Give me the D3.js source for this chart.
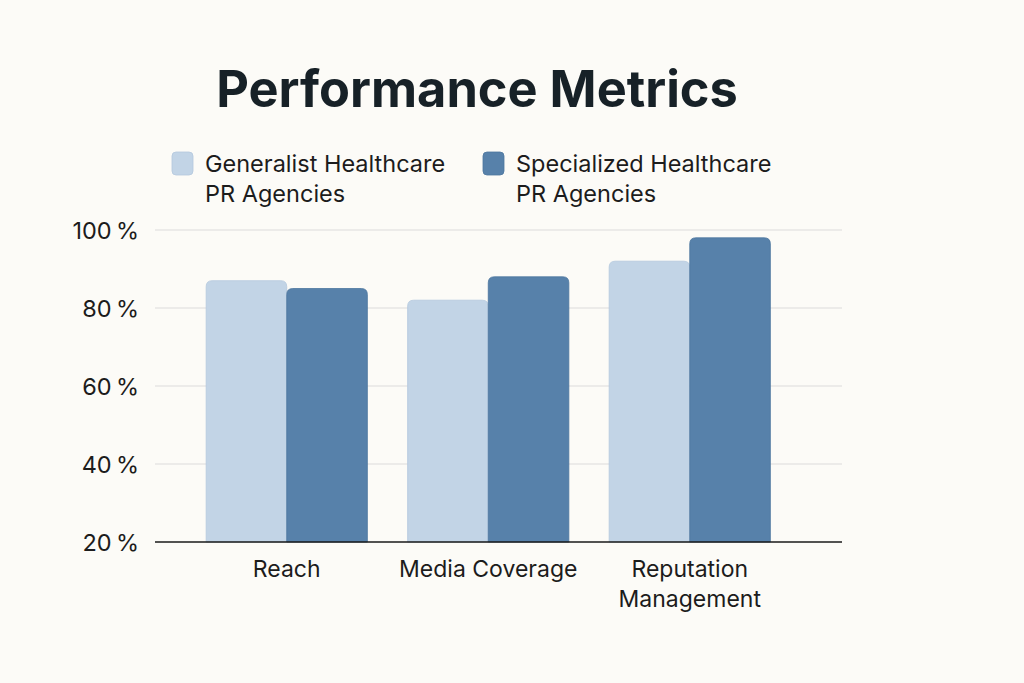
<!DOCTYPE html>
<html>
<head>
<meta charset="utf-8">
<script src="https://cdn.jsdelivr.net/npm/d3@7"></script>
<style>
  body { margin: 0; background: #fcfbf7; }
  svg { display: block; font-family: Inter, "Noto Sans", sans-serif; }
</style>
</head>
<body>
<svg id="chart" width="1024" height="683"></svg>
<script>
// datos del grafico
const categories = [["Reach"], ["Media Coverage"], ["Reputation", "Management"]];
const seriesNames = [["Generalist Healthcare", "PR Agencies"], ["Specialized Healthcare", "PR Agencies"]];
const generalist = [87, 82, 92];
const specialized = [85, 88, 98];
const yTicks = [20, 40, 60, 80, 100];
const colors = ["#c2d4e6", "#5781aa"];

const svg = d3.select('#chart');

svg.append('rect').attr('width', 1024).attr('height', 683).attr('fill', '#fcfbf7');

// titulo
svg.append('text')
  .attr('x', 477)
  .attr('y', 107)
  .attr('text-anchor', 'middle')
  .attr('font-size', 50.5)
  .attr('font-weight', 700)
  .attr('fill', '#172127')
  .text('Performance Metrics');

// escalas
const y = d3.scaleLinear().domain([20, 100]).range([542, 230]);
const x0 = d3.scaleBand()
  .domain(d3.range(categories.length))
  .range([186, 790.5])
  .paddingInner(0.2)
  .paddingOuter(0.1);
const x1 = d3.scaleBand()
  .domain([0, 1])
  .range([0, x0.bandwidth()]);

// lineas de la grilla
svg.append('g')
  .selectAll('line')
  .data(yTicks.slice(1))
  .enter()
  .append('line')
  .attr('x1', 155)
  .attr('x2', 842)
  .attr('y1', (d) => y(d))
  .attr('y2', (d) => y(d))
  .attr('stroke', '#dcdcdc')
  .attr('stroke-width', 1.2);

// etiquetas del eje y
svg.append('g')
  .selectAll('text')
  .data(yTicks)
  .enter()
  .append('text')
  .attr('x', 139)
  .attr('y', (d) => y(d) + 8.5)
  .attr('text-anchor', 'end')
  .attr('font-size', 23.5)
  .attr('fill', '#1c1c1c')
  .text((d) => d + '\u2009%');

// barras con esquinas superiores redondeadas
function topRounded(x, yTop, w, h, r) {
  return `M${x},${yTop + h} V${yTop + r} Q${x},${yTop} ${x + r},${yTop} H${x + w - r} Q${x + w},${yTop} ${x + w},${yTop + r} V${yTop + h} Z`;
}

const rows = categories.map((c, i) => [generalist[i], specialized[i]]);

const groups = svg.append('g')
  .selectAll('g')
  .data(rows)
  .enter()
  .append('g')
  .attr('transform', (d, i) => `translate(${x0(i)},0)`);

groups.selectAll('path')
  .data((d) => d)
  .enter()
  .append('path')
  .attr('d', (d, j) => topRounded(x1(j), y(d), x1.bandwidth(), y(20) - y(d), 6))
  .attr('fill', (d, j) => colors[j])
  .attr('stroke', (d, j) => j === 0 ? '#b4c8dd' : '#4d769e')
  .attr('stroke-width', 0.8);

// eje x
svg.append('line')
  .attr('x1', 155)
  .attr('x2', 842)
  .attr('y1', 542)
  .attr('y2', 542)
  .attr('stroke', '#1a1a1a')
  .attr('stroke-width', 1.6);

// etiquetas de categorias
const catLabels = svg.append('g')
  .selectAll('text')
  .data(categories)
  .enter()
  .append('text')
  .attr('x', (d, i) => x0(i) + x0.bandwidth() / 2)
  .attr('y', 577)
  .attr('text-anchor', 'middle')
  .attr('font-size', 23)
  .attr('fill', '#1c1c1c');

catLabels.selectAll('tspan')
  .data((d) => d)
  .enter()
  .append('tspan')
  .attr('x', function () { return this.parentNode.getAttribute('x'); })
  .attr('dy', (d, k) => k === 0 ? 0 : 30)
  .text((d) => d);

// leyenda
const legendX = [172, 483];
const legend = svg.append('g')
  .selectAll('g')
  .data(seriesNames)
  .enter()
  .append('g')
  .attr('transform', (d, i) => `translate(${legendX[i]},152)`);

legend.append('rect')
  .attr('width', 21)
  .attr('height', 23)
  .attr('rx', 4)
  .attr('fill', (d, i) => colors[i])
  .attr('stroke', (d, i) => i === 0 ? '#b4c8dd' : '#4d769e')
  .attr('stroke-width', 0.8);

legend.append('text')
  .attr('x', 33)
  .attr('y', 19.5)
  .attr('font-size', 23.5)
  .attr('fill', '#1c1c1c')
  .selectAll('tspan')
  .data((d) => d)
  .enter()
  .append('tspan')
  .attr('x', 33)
  .attr('dy', (d, k) => k === 0 ? 0 : 30)
  .text((d) => d);
</script>
</body>
</html>
